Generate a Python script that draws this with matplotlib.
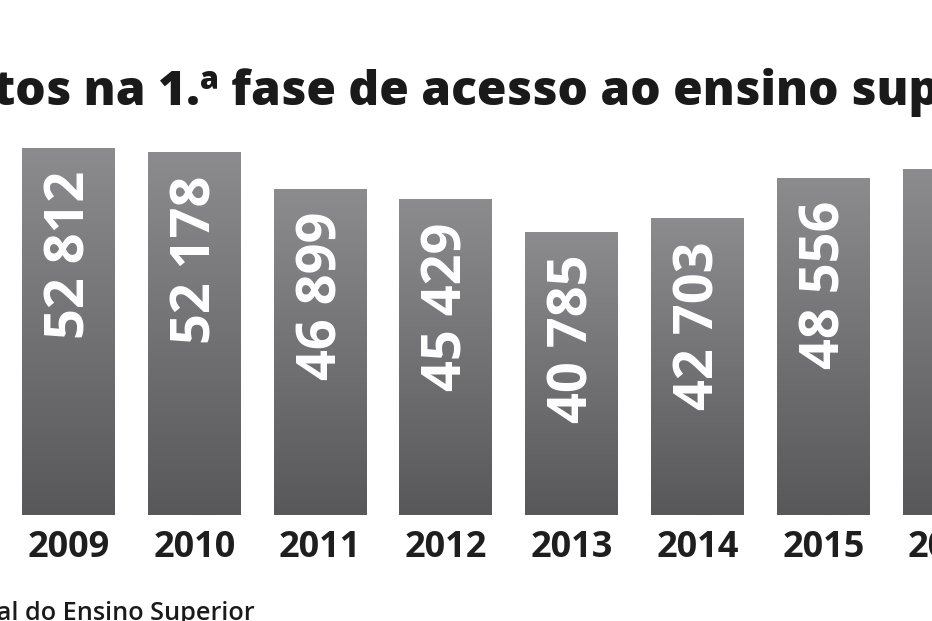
import matplotlib
matplotlib.use("Agg")
import matplotlib.pyplot as plt
import numpy as np
from matplotlib.colors import LinearSegmentedColormap

# dados
anos = ["2009", "2010", "2011", "2012", "2013", "2014", "2015", "2016"]
candidatos = [52812, 52178, 46899, 45429, 40785, 42703, 48556, 49841]
rotulos = ["52 812", "52 178", "46 899", "45 429", "40 785", "42 703", "48 556", "49 841"]

titulo = "Candidatos na 1.ª fase de acesso ao ensino superior"
fonte_txt = "Fonte: Direção-Geral do Ensino Superior"

FAM = ["Open Sans", "DejaVu Sans"]
W, H = 932, 621

fig = plt.figure(figsize=(W / 100, H / 100), dpi=100)
fig.patch.set_facecolor("white")
ax = fig.add_axes([0, 106 / H, 1, 515 / H])
ax.set_axis_off()

passo = 125.8          # px entre barras
x0 = 68.5              # centro da 1.ª barra em px
xlim = (-x0 / passo, (W - x0) / passo)
ylim = (0, 515 * 143.9)

x = np.arange(len(anos))
larg = 93 / passo
barras = ax.bar(x, candidatos, width=larg, color="none", edgecolor="none")

# gradiente vertical em cada barra (claro em cima, escuro em baixo)
cmap = LinearSegmentedColormap.from_list("cinza", ["#58585a", "#8c8c8e"])
grad = np.linspace(0, 1, 256).reshape(-1, 1)
for b in barras:
    bx, bw, bh = b.get_x(), b.get_width(), b.get_height()
    im = ax.imshow(grad, cmap=cmap, origin="lower", aspect="auto",
                   extent=[bx, bx + bw, 0, bh], zorder=1)
    im.set_clip_path(b)

ax.set_xlim(*xlim)
ax.set_ylim(*ylim)

# valores dentro das barras
for xi, v, r in zip(x, candidatos, rotulos):
    ax.annotate(r, (xi, v), xytext=(2, -23), textcoords="offset pixels",
                rotation=90, ha="center", va="top", color="white",
                fontsize=39, fontweight="bold", family=FAM, zorder=3)

# anos por baixo
for xi, a in zip(x, anos):
    ax.annotate(a, (xi, 0), xytext=(0, -42), textcoords="offset pixels",
                ha="center", va="baseline", color="#1e1e1e",
                fontsize=26, fontweight="bold", family=FAM,
                annotation_clip=False)

renderer = fig.canvas.get_renderer()


def largura(txt, fs, peso):
    t = fig.text(0, 0, txt, fontsize=fs, fontweight=peso, family=FAM)
    w = t.get_window_extent(renderer).width
    t.remove()
    return w


# título (cortado nas margens, como no original)
vis_t = "tos na 1.ª fase de acesso ao ensino sup"
fs_t = 33 * 945 / largura(vis_t, 33, "heavy")
pre_t = largura("Candida", fs_t, "heavy")
fig.text((-7 - pre_t) / W, (H - 105) / H, titulo, fontsize=fs_t,
         fontweight="heavy", family=FAM, color="#1a1a1a", va="baseline")

# fonte
vis_f = "al do Ensino Superior"
fs_f = 14 * 261 / largura(vis_f, 14, "semibold")
pre_f = largura("Fonte: Direção-Ger", fs_f, "semibold")
fig.text((-3 - pre_f) / W, 1 / H, fonte_txt, fontsize=fs_f,
         fontweight="semibold", family=FAM, color="#1a1a1a", va="baseline")

fig.savefig("out.png", dpi=100)
